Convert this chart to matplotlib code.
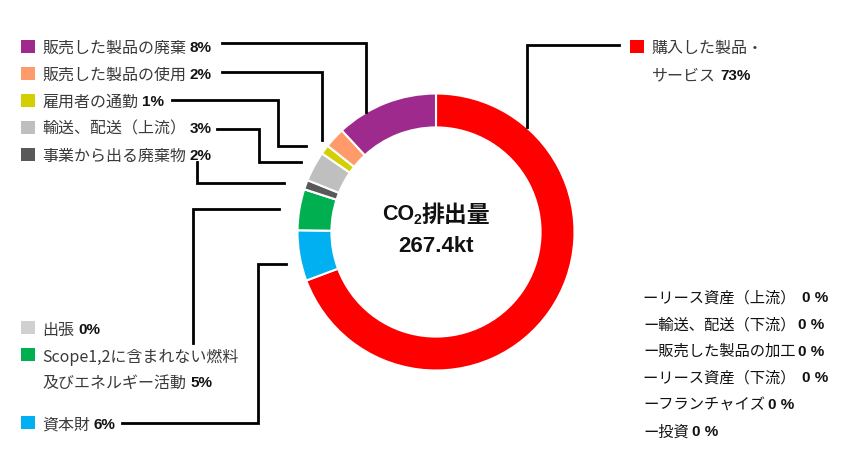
import matplotlib
matplotlib.use('Agg')
import matplotlib.pyplot as plt
from matplotlib.patches import Rectangle

plt.rcParams['font.family'] = ['Noto Sans CJK JP', 'DejaVu Sans']

# ring segments, clockwise from the top
categories = ['購入した製品・サービス', '資本財', 'Scope1,2に含まれない燃料及びエネルギー活動', '出張',
              '事業から出る廃棄物', '輸送、配送（上流）', '雇用者の通勤', '販売した製品の使用', '販売した製品の廃棄']
shares = [69.3, 5.9, 4.8, 0.0, 1.1, 3.5, 1.1, 2.4, 11.9]
pct_labels = ['73%', '6%', '5%', '0%', '2%', '3%', '1%', '2%', '8%']
colors = ['#FF0000', '#00B0F0', '#00B050', '#D0D0D0', '#595959', '#BFBFBF', '#D4CF00', '#FF9B6A', '#9E2A8E']

total_label = '267.4kt'

zero_items = ['ーリース資産（上流） ', 'ー輸送、配送（下流）', 'ー販売した製品の加工', 'ーリース資産（下流） ', 'ーフランチャイズ', 'ー投資']
zero_pcts = ['0 %', '0 %', '0 %', '0 %', '0 %', '0 %']

W, H = 850, 450
fig = plt.figure(figsize=(W / 100, H / 100), dpi=100)

# donut
cx, cy, R = 436, 232, 138.5
pax = fig.add_axes([(cx - R) / W, (H - cy - R) / H, 2 * R / W, 2 * R / H])
pax.pie(shares, colors=colors, startangle=90, counterclock=False, radius=1,
        wedgeprops=dict(width=0.245, edgecolor='white', linewidth=1.5))
pax.set_xlim(-1, 1)
pax.set_ylim(-1, 1)
pax.set_aspect('equal')
pax.axis('off')

# overlay in pixel coordinates for labels and leaders
ax = fig.add_axes([0, 0, 1, 1])
ax.set_xlim(0, W)
ax.set_ylim(H, 0)
ax.axis('off')
ax.patch.set_alpha(0)

renderer = fig.canvas.get_renderer()


def text_width(t):
    bb = t.get_window_extent(renderer=renderer)
    return bb.width


def label_with_pct(x, y, text, pct, color='#3a3a3a', size=11.5, pct_size=11, gap=4):
    t = ax.text(x, y, text, fontsize=size, color=color, va='center', ha='left')
    w = text_width(t)
    ax.text(x + w + gap, y, pct, fontsize=pct_size, fontweight='bold', color='#111111',
            va='center', ha='left', family=['Liberation Sans', 'DejaVu Sans'])


def square(x, y, c):
    ax.add_patch(Rectangle((x, y - 6.5), 14, 13, color=c, lw=0))


# left column (upper group)
upper = [(8, 48), (7, 75), (6, 102), (5, 129), (4, 156)]
for idx, y in upper:
    square(21, y - 2, colors[idx])
    label_with_pct(42, y, categories[idx], pct_labels[idx])

# left column (lower group)
square(21, 327, colors[3])
label_with_pct(42, 330, categories[3], pct_labels[3])
square(21, 354, colors[2])
ax.text(42, 357, 'Scope1,2に含まれない燃料', fontsize=11.5, color='#3a3a3a', va='center')
label_with_pct(42, 383, '及びエネルギー活動', pct_labels[2])
square(21, 422, colors[1])
label_with_pct(42, 425, categories[1], pct_labels[1])

# right label for main segment
square(630, 46, colors[0])
ax.text(652, 48, '購入した製品・', fontsize=11.5, color='#3a3a3a', va='center')
label_with_pct(652, 76, 'サービス', pct_labels[0])

# zero-value categories
for i, (name, p) in enumerate(zip(zero_items, zero_pcts)):
    y = 298 + i * 26.8
    label_with_pct(643, y, name, p, color='#111111', size=11, pct_size=11, gap=3)

# leader lines
leaders = [
    [(222, 43), (366, 43), (366, 112)],
    [(222, 72), (322, 72), (322, 140)],
    [(172, 100), (278, 100), (278, 146), (306, 146)],
    [(217, 129), (259, 129), (259, 162), (301, 162)],
    [(197, 162), (197, 183), (284, 183)],
    [(193, 343), (193, 209), (279, 209)],
    [(122, 423), (258, 423), (258, 264), (286, 264)],
    [(619, 45), (527, 45), (527, 127)],
]
for pts in leaders:
    xs, ys = zip(*pts)
    ax.plot(xs, ys, color='black', lw=2, solid_joinstyle='miter')

# centre title: CO2排出量
bold_latin = ['Liberation Sans', 'DejaVu Sans']
runs = [('CO', 15.5, 0, bold_latin), ('2', 10, 5, bold_latin), ('排出量', 16.5, 0, ['Noto Sans CJK JP'])]
objs = []
tot = 0
for s, sz, dy, fam in runs:
    t = ax.text(0, 215 + dy, s, fontsize=sz, fontweight='bold', va='center', ha='left', family=fam, color='#111111')
    w = text_width(t)
    objs.append((t, w))
    tot += w
x0 = cx - tot / 2
for t, w in objs:
    t.set_x(x0)
    x0 += w
ax.text(cx, 247, total_label, fontsize=16, fontweight='bold', ha='center', va='center',
        family=bold_latin, color='#111111')

fig.savefig('out.png', dpi=100)
